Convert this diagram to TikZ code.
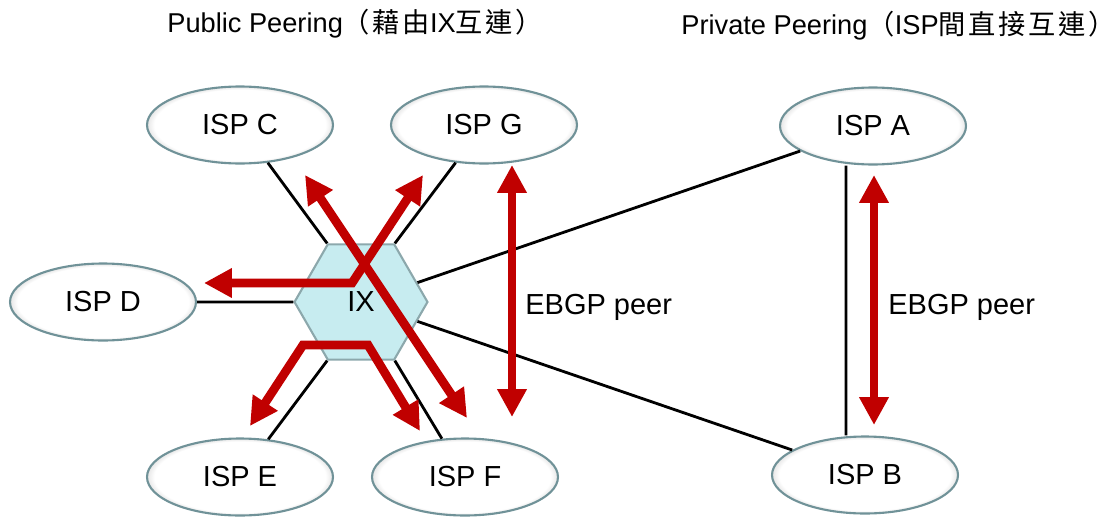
\documentclass[tikz,border=0pt]{standalone}
\usepackage{fontspec}
\setmainfont{Liberation Sans}
\newfontfamily\cjk[LetterSpace=10]{Noto Sans CJK TC}
\usetikzlibrary{shapes.geometric,arrows.meta}

\definecolor{peerred}{RGB}{192,0,0}
\definecolor{ixfill}{RGB}{199,236,240}
\definecolor{ixborder}{RGB}{140,168,172}
\definecolor{ispborder}{RGB}{112,146,152}
\pgfdeclareradialshading{ispglow}{\pgfpoint{0bp}{0bp}}{color(0bp)=(white); color(23bp)=(white); color(28bp)=(gray!50); color(50bp)=(gray!50)}

\tikzset{
	isp/.style={ellipse, shade, shading=ispglow, draw=ispborder, line width=1.2pt,
		minimum width=3.72cm, minimum height=1.54cm, inner sep=0pt,
		font=\fontsize{16.5}{18}\selectfont},
	link/.style={line width=1.6pt, black},
	peer/.style={line width=5pt, peerred,
		{Triangle[width=0.56cm,length=0.56cm]}-{Triangle[width=0.56cm,length=0.56cm]}},
	title/.style={anchor=west, inner sep=0pt, font=\fontsize{15.5}{18}\selectfont},
	peerlabel/.style={anchor=west, inner sep=0pt, font=\fontsize{16.5}{18}\selectfont}
}

\begin{document}
\begin{tikzpicture}[x=0.02cm, y=-0.02cm]
	\useasboundingbox (0,0) rectangle (1118,517);

	% titles
	\node[title] (pubTitle) at (167,24) {Public Peering{\cjk（藉由}IX{\cjk 互連）}};
	\node[title] (privTitle) at (681,26) {Private Peering{\cjk（}ISP{\cjk 間直接互連）}};

	% ISPs and the exchange
	\foreach \name/\pos/\lbl in {ispC/{(240,125)}/ISP C, ispG/{(484,125)}/ISP G,
			ispD/{(103,302)}/ISP D, ispE/{(240,477)}/ISP E, ispF/{(465,477)}/ISP F,
			ispA/{(873,126)}/ISP A, ispB/{(865,475)}/ISP B}
		\node[isp] (\name) at \pos {\lbl};

	\node[regular polygon, regular polygon sides=6, minimum size=2.66cm, inner sep=0pt,
		fill=ixfill, draw=ixborder, line width=1.2pt,
		font=\fontsize{16.5}{18}\selectfont] (ix) at (361,302) {IX};

	% links
	\draw[link] (ispC) -- (ix.120);
	\draw[link] (ispG) -- (ix.60);
	\draw[link] (ispD) -- (ix.180);
	\draw[link] (ispE) -- (ix.240);
	\draw[link] (ispF) -- (ix.300);
	\draw[link] (ix) -- (ispA);
	\draw[link] (ix) -- (ispB);
	\draw[link] ([xshift=-0.54cm]ispA.south) -- ([xshift=-0.38cm]ispB.north);

	% traffic through IX
	\coordinate (cfTop) at (305,175);
	\coordinate (cfBot) at (467,418);
	\coordinate (gTip) at (423,175);
	\coordinate (gdBend) at (352,283);
	\coordinate (dTip) at (204,283);
	\coordinate (eTip) at (250,426);
	\coordinate (efLeft) at (303,345);
	\coordinate (efRight) at (368,345);
	\coordinate (fTip) at (420,431);

	\draw[peer] (cfTop) -- (cfBot);
	\draw[peer] (gTip) -- (gdBend) -- (dTip);
	\draw[peer] (eTip) -- (efLeft) -- (efRight) -- (fTip);

	% EBGP sessions
	\coordinate (pubTop) at (512,165);
	\coordinate (pubBot) at (512,417);
	\coordinate (privTop) at (874,175);
	\coordinate (privBot) at (874,425);

	\draw[peer] (pubTop) -- (pubBot);
	\draw[peer] (privTop) -- (privBot);

	\node[peerlabel] (pubPeer) at (525,307) {EBGP peer};
	\node[peerlabel] (privPeer) at (888,307) {EBGP peer};
\end{tikzpicture}
\end{document}
